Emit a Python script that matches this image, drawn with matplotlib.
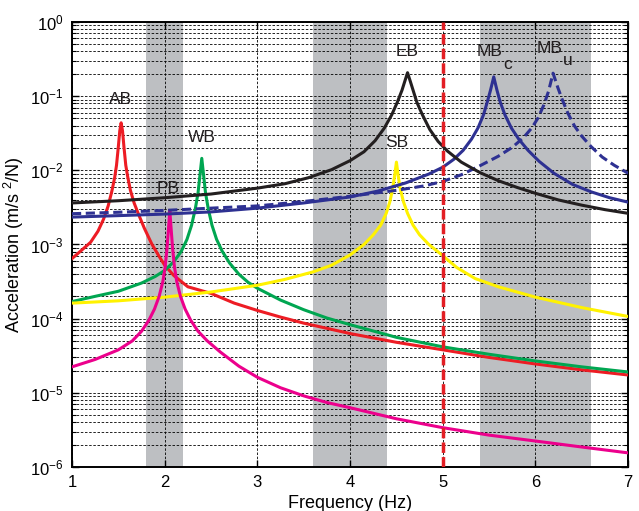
import matplotlib
matplotlib.use('Agg')
import matplotlib.pyplot as plt
from matplotlib.ticker import LogLocator, NullFormatter

plt.rcParams['font.family'] = ['Liberation Sans', 'DejaVu Sans']
plt.rcParams['mathtext.fontset'] = 'custom'
plt.rcParams['mathtext.rm'] = 'Liberation Sans'
plt.rcParams['mathtext.it'] = 'Liberation Sans'

# frequency bands (Hz) shaded in gray
bands = [(1.8, 2.2), (3.6, 4.4), (5.4, 6.6)]
limit_freq = 5.0

# AB
ab_x = [1.0, 1.1, 1.2, 1.28, 1.34, 1.39, 1.43, 1.46, 1.48, 1.50, 1.515, 1.53, 1.545, 1.56,
        1.58, 1.60, 1.63, 1.67, 1.72, 1.78, 1.86, 1.93, 2.0, 2.1, 2.25, 2.5, 2.75, 3.0,
        3.25, 3.5, 4.0, 4.5, 5.0, 5.5, 6.0, 6.5, 7.0]
ab_y = [6.46e-4, 8.3e-4, 1.07e-3, 1.51e-3, 2.19e-3, 3.31e-3, 5.25e-3, 7.94e-3, 1.17e-2,
        2.09e-2, 3.39e-2, 4.37e-2, 3.39e-2, 2.09e-2, 1.17e-2, 8.3e-3, 5.37e-3, 3.63e-3,
        2.51e-3, 1.66e-3, 1.02e-3, 7.24e-4, 5.25e-4, 3.8e-4, 2.69e-4, 2.19e-4, 1.62e-4,
        1.29e-4, 1.05e-4, 8.7e-5, 6.3e-5, 4.8e-5, 3.8e-5, 3.0e-5, 2.45e-5, 2.04e-5, 1.74e-5]

# WB
wb_x = [1.0, 1.25, 1.5, 1.75, 1.9, 2.0, 2.1, 2.18, 2.24, 2.29, 2.33, 2.36, 2.38, 2.40, 2.42,
        2.44, 2.47, 2.51, 2.56, 2.62, 2.70, 2.80, 2.90, 3.0, 3.25, 3.5, 3.75, 4.0, 4.5,
        5.0, 5.5, 6.0, 6.5, 7.0]
wb_y = [1.70e-4, 2.0e-4, 2.34e-4, 3.02e-4, 3.72e-4, 4.47e-4, 5.89e-4, 8.13e-4, 1.17e-3,
        1.82e-3, 3.02e-3, 5.01e-3, 8.51e-3, 1.45e-2, 8.51e-3, 5.01e-3, 3.02e-3, 1.82e-3,
        1.17e-3, 8.13e-4, 5.62e-4, 3.98e-4, 3.09e-4, 2.57e-4, 1.78e-4, 1.32e-4, 1.02e-4,
        8.3e-5, 5.6e-5, 4.17e-5, 3.31e-5, 2.69e-5, 2.24e-5, 1.91e-5]

# SB
sb_x = [1.0, 1.5, 2.0, 2.5, 3.0, 3.3, 3.6, 3.8, 4.0, 4.15, 4.25, 4.33, 4.39, 4.43, 4.46,
        4.48, 4.50, 4.52, 4.54, 4.575, 4.62, 4.68, 4.75, 4.85, 5.0, 5.15, 5.35, 5.6, 6.0,
        6.5, 7.0]
sb_y = [1.62e-4, 1.74e-4, 1.95e-4, 2.29e-4, 2.82e-4, 3.39e-4, 4.27e-4, 5.25e-4, 7.24e-4,
        1.0e-3, 1.35e-3, 1.82e-3, 2.63e-3, 3.8e-3, 5.75e-3, 8.3e-3, 1.29e-2, 8.3e-3,
        5.75e-3, 3.8e-3, 2.63e-3, 1.82e-3, 1.35e-3, 1.0e-3, 7.08e-4, 4.9e-4, 3.47e-4,
        2.69e-4, 1.95e-4, 1.41e-4, 1.07e-4]

# PB
pb_x = [1.0, 1.25, 1.5, 1.65, 1.75, 1.83, 1.89, 1.94, 1.98, 2.005, 2.025, 2.04, 2.055,
        2.07, 2.085, 2.105, 2.13, 2.17, 2.22, 2.28, 2.36, 2.46, 2.6, 2.8, 3.0, 3.25, 3.5,
        3.75, 4.0, 4.5, 5.0, 5.5, 6.0, 6.5, 7.0]
pb_y = [2.24e-5, 2.82e-5, 3.8e-5, 5.01e-5, 6.76e-5, 9.55e-5, 1.35e-4, 2.0e-4, 3.16e-4,
        5.01e-4, 8.9e-4, 1.58e-3, 2.88e-3, 1.58e-3, 8.9e-4, 5.01e-4, 3.16e-4, 2.0e-4,
        1.35e-4, 9.55e-5, 6.76e-5, 5.01e-5, 3.55e-5, 2.29e-5, 1.62e-5, 1.17e-5, 9.1e-6,
        7.4e-6, 6.3e-6, 4.47e-6, 3.39e-6, 2.69e-6, 2.24e-6, 1.86e-6, 1.55e-6]

# EB
eb_x = [1.0, 1.5, 2.0, 2.5, 3.0, 3.3, 3.55, 3.8, 4.0, 4.15, 4.27, 4.37, 4.45, 4.51, 4.56,
        4.59, 4.62, 4.65, 4.68, 4.72, 4.78, 4.86, 4.95, 5.05, 5.2, 5.4, 5.6, 5.8, 6.0, 6.25,
        6.5, 6.75, 7.0]
eb_y = [3.63e-3, 3.89e-3, 4.27e-3, 4.79e-3, 5.75e-3, 6.61e-3, 7.94e-3, 1.02e-2, 1.35e-2,
        1.78e-2, 2.51e-2, 3.72e-2, 5.62e-2, 8.3e-2, 0.120, 0.158, 0.207, 0.158, 0.120,
        8.3e-2, 5.62e-2, 3.55e-2, 2.45e-2, 1.82e-2, 1.29e-2, 9.33e-3, 7.24e-3, 5.89e-3,
        4.9e-3, 3.98e-3, 3.39e-3, 2.95e-3, 2.63e-3]

# MB constrained
mbc_x = [1.0, 1.5, 2.0, 2.5, 3.0, 3.5, 4.0, 4.3, 4.6, 4.85, 5.0, 5.12, 5.22, 5.31, 5.38,
         5.44, 5.48, 5.515, 5.55, 5.585, 5.62, 5.67, 5.74, 5.82, 5.92, 6.04, 6.2, 6.4, 6.6,
         6.8, 7.0]
mbc_y = [2.34e-3, 2.45e-3, 2.57e-3, 2.75e-3, 3.09e-3, 3.63e-3, 4.37e-3, 5.25e-3, 6.76e-3,
         8.91e-3, 1.1e-2, 1.41e-2, 1.86e-2, 2.63e-2, 3.72e-2, 5.62e-2, 8.32e-2, 0.120,
         0.182, 0.120, 8.32e-2, 5.62e-2, 3.72e-2, 2.63e-2, 1.86e-2, 1.32e-2, 9.12e-3,
         6.46e-3, 5.13e-3, 4.27e-3, 3.72e-3]

# MB unconstrained
mbu_x = [1.0, 1.5, 2.0, 2.5, 3.0, 3.5, 4.0, 4.5, 4.8, 5.0, 5.2, 5.4, 5.6, 5.75, 5.87, 5.96,
         6.03, 6.09, 6.14, 6.19, 6.24, 6.29, 6.35, 6.42, 6.5, 6.6, 6.72, 6.85, 7.0]
mbu_y = [2.6e-3, 2.72e-3, 2.88e-3, 3.09e-3, 3.31e-3, 3.8e-3, 4.47e-3, 5.37e-3, 6.17e-3,
         7.08e-3, 8.71e-3, 1.15e-2, 1.55e-2, 2.04e-2, 2.75e-2, 3.72e-2, 5.13e-2, 7.59e-2,
         0.115, 0.204, 0.132, 8.91e-2, 5.89e-2, 3.98e-2, 2.88e-2, 2.09e-2, 1.51e-2,
         1.17e-2, 9.12e-3]

fig = plt.figure(figsize=(6.39, 5.11), dpi=100)
ax = fig.add_axes([0.1127, 0.0861, 0.8703, 0.8709])

for lo, hi in bands:
    ax.axvspan(lo, hi, color='#bdbfc2', lw=0, zorder=0)

lw = 2.2
ax.plot(ab_x, ab_y, color='#ed1c24', lw=lw, zorder=3)
ax.plot(wb_x, wb_y, color='#00a651', lw=lw, zorder=3)
ax.plot(sb_x, sb_y, color='#fff200', lw=lw, zorder=3)
ax.plot(pb_x, pb_y, color='#ec008c', lw=lw, zorder=3)
ax.plot(mbc_x, mbc_y, color='#2e3192', lw=lw, zorder=3)
ax.plot(mbu_x, mbu_y, color='#2e3192', lw=lw, ls=(0, (3, 1.5)), zorder=3)
ax.plot(eb_x, eb_y, color='#231f20', lw=lw, zorder=3)
ax.axvline(limit_freq, color='#e31e24', lw=2.5, ls=(0, (3, 1.2)), zorder=4)

ax.set_yscale('log')
ax.set_xlim(1, 7)
ax.set_ylim(1e-6, 1e0)
ax.set_xticks([1, 2, 3, 4, 5, 6, 7])
ax.yaxis.set_major_locator(LogLocator(base=10, numticks=10))
ax.yaxis.set_minor_locator(LogLocator(base=10, subs=range(2, 10), numticks=20))
ax.yaxis.set_minor_formatter(NullFormatter())

ax.grid(True, which='major', color='k', ls=(0, (3, 2)), lw=0.6, zorder=1)
ax.grid(True, which='minor', axis='y', color='k', ls=(0, (3, 2)), lw=0.6, zorder=1)
ax.set_axisbelow(False)
for ln in ax.get_xgridlines() + ax.get_ygridlines():
    ln.set_zorder(1)

ax.tick_params(which='both', direction='in', top=True, right=True, labelsize=12)
ax.tick_params(which='major', length=5, width=1, pad=6)
ax.tick_params(which='minor', length=3, width=0.8)
for s in ax.spines.values():
    s.set_linewidth(1.4)

ax.set_xlabel('Frequency (Hz)', fontsize=13, labelpad=3)
ax.set_ylabel('Acceleration (m/s $^{2}$/N)', fontsize=13, labelpad=3)

tk = dict(fontsize=12.5, ha='center', va='center', color='#231f20', zorder=5)
ax.text(1.52, 0.089, 'AB', **tk)
ax.text(2.04, 5.6e-3, 'PB', **tk)
ax.text(2.40, 0.028, 'WB', **tk)
ax.text(4.50, 0.024, 'SB', **tk)
ax.text(4.62, 0.40, 'EB', **tk)
ax.text(5.50, 0.40, 'MB', **tk)
ax.text(5.70, 0.27, 'c', **tk)
ax.text(6.15, 0.44, 'MB', **tk)
ax.text(6.35, 0.30, 'u', **tk)

fig.savefig('out.png', dpi=100)
